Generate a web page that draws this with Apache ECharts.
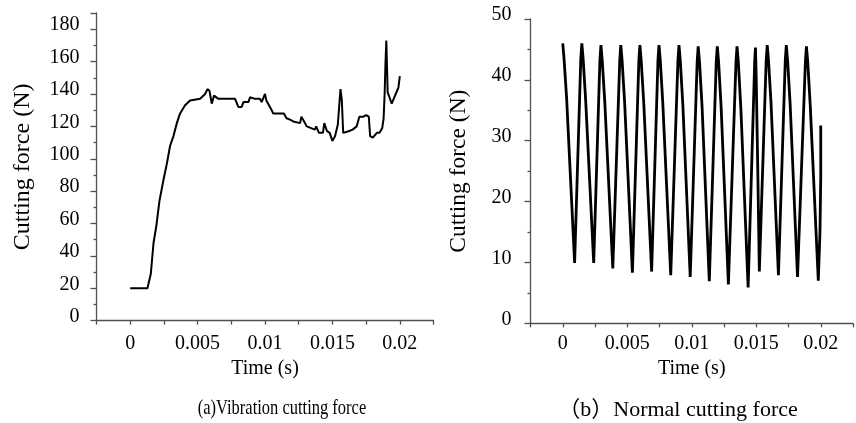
<!DOCTYPE html>
<html>
<head>
<meta charset="utf-8">
<script src="https://cdn.jsdelivr.net/npm/echarts@6/dist/echarts.min.js"></script>
<style>
html,body{margin:0;padding:0;background:#fff;}
#c{width:856px;height:423px;}
</style>
</head>
<body>
<div id="c"></div>
<script>
// ---- Data ----
const timeTickLabels = ['0', '0.005', '0.01', '0.015', '0.02'];
const vibYTicks = [0, 20, 40, 60, 80, 100, 120, 140, 160, 180];
const normYTicks = [0, 10, 20, 30, 40, 50];

const vibTime = [0, 0.00128, 0.00153, 0.00173, 0.00193, 0.00217, 0.00247, 0.00272, 0.00296, 0.00321,
  0.00346, 0.0037, 0.00407, 0.00444, 0.00519, 0.00556, 0.00573, 0.00588, 0.00605, 0.00622,
  0.00654, 0.00778, 0.00802, 0.00827, 0.0084, 0.00877, 0.00889, 0.00926, 0.00963, 0.00975,
  0.01, 0.0101, 0.0105, 0.0106, 0.0114, 0.0116, 0.0119, 0.0121, 0.0126, 0.0127,
  0.0129, 0.0131, 0.0132, 0.0137, 0.0138, 0.014, 0.0143, 0.0144, 0.0146, 0.0148,
  0.015, 0.0152, 0.0154, 0.0156, 0.0157, 0.0158, 0.0162, 0.0165, 0.0168, 0.017,
  0.0173, 0.0175, 0.0177, 0.0178, 0.018, 0.0183, 0.0185, 0.0187, 0.0188, 0.01888,
  0.01893, 0.019, 0.01905, 0.0191, 0.0194, 0.0196, 0.0199, 0.02];
const vibForce = [20, 20, 29, 48, 58, 74, 87, 97, 108, 114,
  122, 128, 133, 136, 137, 140, 143, 142, 134, 139,
  137, 137, 132, 132, 135, 135, 138, 137, 137, 135,
  140, 136, 130, 128, 128, 125, 124, 123, 122, 126,
  123, 120, 119, 118, 120, 116, 116, 122, 117, 116,
  111, 114, 121, 143, 136, 116, 117, 118, 120, 126,
  126, 127, 126, 114, 113, 116, 116, 119, 125, 141,
  157, 173, 157, 141, 134, 138, 144, 151];

const normTime = [
  0, 0.0001, 0.0003, 0.00092,
  0.0014, 0.00148, 0.00158, 0.00178, 0.0024,
  0.00288, 0.00296, 0.00306, 0.00326, 0.00388,
  0.00442, 0.0045, 0.0046, 0.0048, 0.0054,
  0.0059, 0.00598, 0.00608, 0.00628, 0.00689,
  0.00738, 0.00746, 0.00756, 0.00776, 0.00837,
  0.00893, 0.00901, 0.00911, 0.00931, 0.00988,
  0.01042, 0.0105, 0.0106, 0.0108, 0.01136,
  0.0119, 0.01198, 0.01208, 0.01228, 0.01284,
  0.01343, 0.01351, 0.01361, 0.01381, 0.01437,
  0.01488, 0.01494, 0.015, 0.01512, 0.01524,
  0.01577, 0.01585, 0.01595, 0.01615, 0.01672,
  0.01725, 0.01733, 0.01743, 0.01763, 0.0182,
  0.01881, 0.01889, 0.01899, 0.01919, 0.01981,
  0.01994, 0.02, 0.02];
const normForce = [
  46.0, 43.5, 37.0, 9.9,
  43.5, 46.0, 43.5, 36.5, 9.9,
  43.2, 45.7, 43.2, 36.3, 9.0,
  43.2, 45.7, 43.2, 36.2, 8.3,
  43.2, 45.7, 43.2, 36.2, 8.5,
  43.2, 45.7, 43.2, 36.0, 7.9,
  43.2, 45.7, 43.2, 35.9, 7.6,
  43.0, 45.5, 43.0, 35.6, 6.9,
  43.0, 45.5, 43.0, 35.4, 6.4,
  43.0, 45.5, 43.0, 35.2, 5.9,
  43.0, 45.3, 40.0, 25.0, 8.5,
  43.2, 45.7, 43.2, 36.0, 7.9,
  43.2, 45.7, 43.2, 35.9, 7.6,
  43.0, 45.5, 43.0, 35.6, 7.0,
  15.0, 24.0, 32.5];

const captionA = '(a)Vibration cutting force';
const captionB = '（b）Normal cutting force';
const xName = 'Time (s)';
const yName = 'Cutting force (N)';

// ---- Chart ----
const FONT = '"Liberation Serif", "Times New Roman", serif';
const AXIS_COLOR = '#505050';

function timeFmt(v) {
  const k = Math.round(v / 0.0025);
  if (k < 0 || k % 2 !== 0) return '';
  return timeTickLabels[k / 2] !== undefined ? timeTickLabels[k / 2] : '';
}

function xAxisCfg(gridIndex, labelMargin, nameGap) {
  return {
    type: 'value', gridIndex: gridIndex,
    min: -0.0025, max: 0.0225, interval: 0.0025,
    name: xName, nameLocation: 'middle', nameGap: nameGap,
    nameTextStyle: { fontFamily: FONT, fontSize: 20, color: '#000' },
    axisLine: { show: true, onZero: false, lineStyle: { color: AXIS_COLOR, width: 1.3 } },
    axisTick: { show: true, inside: false, length: 4, lineStyle: { color: AXIS_COLOR, width: 1.3 } },
    splitLine: { show: false },
    axisLabel: { formatter: timeFmt, fontFamily: FONT, fontSize: 20, color: '#000', margin: labelMargin,
      showMinLabel: true, showMaxLabel: true, hideOverlap: false }
  };
}

function yAxisCfg(gridIndex, max, interval, ticks, nameGap, nameSize, labelMargin) {
  return {
    type: 'value', gridIndex: gridIndex,
    min: 0, max: max, interval: interval,
    name: yName, nameLocation: 'middle', nameGap: nameGap, nameRotate: 90,
    nameTextStyle: { fontFamily: FONT, fontSize: nameSize, color: '#000' },
    axisLine: { show: true, onZero: false, lineStyle: { color: AXIS_COLOR, width: 1.3 } },
    axisTick: { show: true, inside: false, length: 6, lineStyle: { color: AXIS_COLOR, width: 1.3 } },
    minorTick: { show: true, splitNumber: 2, length: 3, lineStyle: { color: AXIS_COLOR, width: 1.3 } },
    splitLine: { show: false },
    axisLabel: {
      fontFamily: FONT, fontSize: 20, color: '#000', margin: labelMargin,
      verticalAlign: 'bottom', lineHeight: 8,
      formatter: function (v) { return ticks.indexOf(v) >= 0 ? String(v) : ''; }
    }
  };
}

const chart = echarts.init(document.getElementById('c'), null, { renderer: 'canvas' });
chart.setOption({
  animation: false,
  backgroundColor: '#fff',
  grid: [
    { left: 96.5, right: 422.5, top: 13, bottom: 102.3 },
    { left: 530.5, right: -12.5, top: 19, bottom: 99.7 }
  ],
  xAxis: [xAxisCfg(0, 13, 36), xAxisCfg(1, 10, 35)],
  yAxis: [
    yAxisCfg(0, 190, 20, vibYTicks, 62, 24, 17),
    yAxisCfg(1, 50, 10, normYTicks, 60, 23.5, 19)
  ],
  series: [
    {
      type: 'line', xAxisIndex: 0, yAxisIndex: 0,
      data: vibTime.map((t, i) => [t, vibForce[i]]),
      showSymbol: false, smooth: false, clip: false,
      lineStyle: { color: '#000', width: 2 }
    },
    {
      type: 'line', xAxisIndex: 1, yAxisIndex: 1,
      data: normTime.map((t, i) => [t, normForce[i]]),
      showSymbol: false, smooth: false, clip: false,
      lineStyle: { color: '#000', width: 2.8 }
    }
  ],
  graphic: [
    { type: 'text', x: 282, y: 408, scaleX: 0.75,
      style: { text: captionA, fontFamily: FONT, fontSize: 22, fill: '#000', align: 'center', verticalAlign: 'middle' } },
    { type: 'text', x: 678, y: 410,
      style: { text: captionB, fontFamily: '"Liberation Serif", "Noto Sans CJK SC", serif', fontSize: 22, fill: '#000', align: 'center', verticalAlign: 'middle' } }
  ]
});
</script>
</body>
</html>
